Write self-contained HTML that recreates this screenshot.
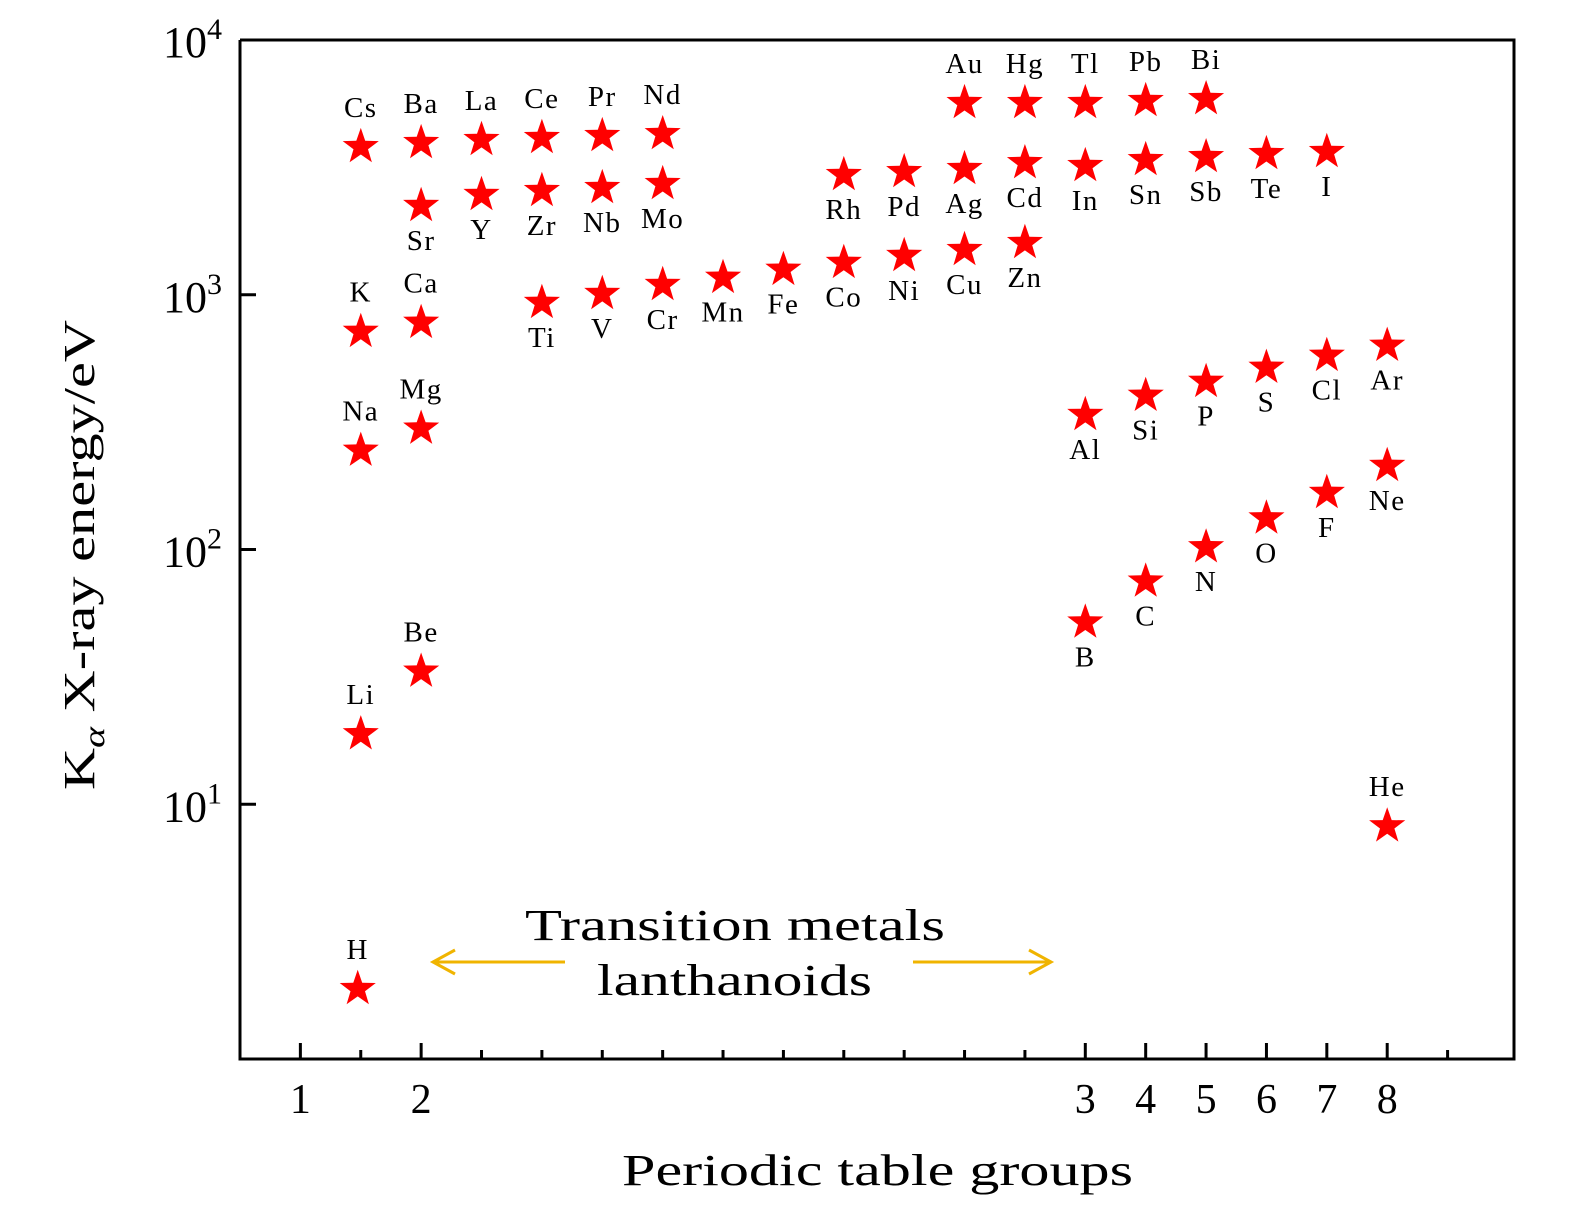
<!DOCTYPE html>
<html><head><meta charset="utf-8"><style>
html,body{margin:0;padding:0;background:#fff;overflow:hidden;width:1575px;height:1211px}
svg{display:block}
svg text{font-family:"Liberation Serif",serif;fill:#000}
</style></head><body>
<svg id="chart" width="1575" height="1211" viewBox="0 0 1575 1211" xmlns="http://www.w3.org/2000/svg">
<g id="marks"></g>
<g id="axes"></g>
</svg>
<script>
const elements=["Cs","Ba","La","Ce","Pr","Nd","Sr","Y","Zr","Nb","Mo","K","Ca","Ti","V","Cr","Mn","Fe","Co","Ni","Cu","Zn","Rh","Pd","Ag","Cd","In","Sn","Sb","Te","I","Au","Hg","Tl","Pb","Bi","Na","Mg","Al","Si","P","S","Cl","Ar","Li","Be","B","C","N","O","F","Ne","He","H"];
const columns=[1,2,3,4,5,6,2,3,4,5,6,1,2,4,5,6,7,8,9,10,11,12,9,10,11,12,13,14,15,16,17,11,12,13,14,15,1,2,13,14,15,16,17,18,1,2,13,14,15,16,17,18,18,0.95];
const energies=[3873,4018,4130,4205,4280,4355,2275,2513,2605,2675,2773,729,791,947,1027,1114,1188,1277,1360,1448,1528,1628,3008,3090,3176,3350,3264,3444,3538,3636,3706,5766,5766,5766,5873,5974,249,304,344,409,464,527,587,643,19.2,33.8,52.7,76.3,104,135,170,217,8.35,1.92];
const labelAbove=[1,1,1,1,1,1,0,0,0,0,0,1,1,0,0,0,0,0,0,0,0,0,0,0,0,0,0,0,0,0,0,1,1,1,1,1,1,1,0,0,0,0,0,0,1,1,0,0,0,0,0,0,1,1];
const xTickLabels=["1","","2","","","","","","","","","","","3","4","5","6","7","8",""];
const yTickExps=[1,2,3,4];

const NS="http://www.w3.org/2000/svg";
const X0=240,X1=1514,Y0=40,Y1=1059;
const xs=i=>X0+(i+1)*(X1-X0)/21.1;
const ys=v=>Y1-(Y1-Y0)*Math.log10(v)/4;
function mk(tag,attrs,parent){const e=document.createElementNS(NS,tag);for(const k in attrs)e.setAttribute(k,attrs[k]);parent.appendChild(e);return e;}
const marks=document.getElementById('marks'),axes=document.getElementById('axes');
function starPts(cx,cy,R){const r=R*0.4;let p=[];for(let k=0;k<10;k++){const a=-Math.PI/2+k*Math.PI/5;const rr=k%2?r:R;p.push((cx+rr*Math.cos(a)).toFixed(1)+","+(cy+rr*Math.sin(a)).toFixed(1));}return p.join(" ");}
elements.forEach((el,i)=>{
  const cx=xs(columns[i]),cy=ys(energies[i]);
  const s=mk('polygon',{points:starPts(cx,cy+2,19),fill:'#ff0000'},marks);
  
  
  const t=mk('text',{x:cx,y:labelAbove[i]?cy-28:cy+46,'text-anchor':'middle','font-size':29,'letter-spacing':1.5},marks);
  t.textContent=el;
  
  
});
const f=mk('path',{d:`M${X0},${Y0} V${Y1} H${X1} V${Y0} H${X0}`,fill:'none',stroke:'#000','stroke-width':3},axes);


for(let i=0;i<20;i++){
  const x=xs(i),major=xTickLabels[i]!=="";
  const tk=mk('line',{x1:x,x2:x,y1:Y1,y2:Y1-(major?16:9),stroke:'#000','stroke-width':3},axes);
  
  
  if(major){const t=mk('text',{x:x,y:1113,'text-anchor':'middle','font-size':42},axes);t.textContent=xTickLabels[i];
    
    }
}
yTickExps.forEach(e=>{
  const y=ys(Math.pow(10,e));
  if(e<4){const tk=mk('line',{x1:X0,x2:X0+16,y1:y,y2:y,stroke:'#000','stroke-width':3},axes);
    
    }
  const t=mk('text',{x:222,y:y+17,'text-anchor':'end','font-size':44},axes);
  t.innerHTML='10<tspan dy="-18" font-size="30">'+e+'</tspan>';
  
  
});
const xt=mk('text',{x:622,y:1185,'font-size':44,textLength:511,lengthAdjust:'spacingAndGlyphs'},axes);
xt.textContent='Periodic table groups';


const yt=mk('text',{transform:'translate(94,790) rotate(-90)','font-size':44,textLength:470,lengthAdjust:'spacingAndGlyphs'},axes);
yt.innerHTML='K<tspan dy="10" font-size="30" font-style="italic">α</tspan><tspan dy="-10"> X-ray energy/eV</tspan>';


const a1=mk('text',{x:525,y:940,'font-size':44,textLength:420,lengthAdjust:'spacingAndGlyphs'},axes);
a1.textContent='Transition metals';


const a2=mk('text',{x:597,y:995,'font-size':44,textLength:275,lengthAdjust:'spacingAndGlyphs'},axes);
a2.textContent='lanthanoids';


const ar=mk('g',{stroke:'#f0b400','stroke-width':3,fill:'none'},axes);


mk('path',{d:'M565,962 H433 M455,950 L433,962 L455,974'},ar);
mk('path',{d:'M913,962 H1051 M1029,950 L1051,962 L1029,974'},ar);
</script>
</body></html>
